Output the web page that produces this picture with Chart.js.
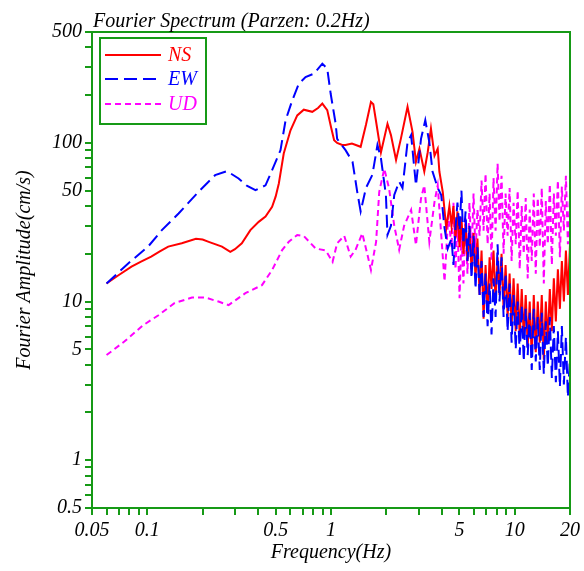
<!DOCTYPE html>
<html lang="en">
<head>
  <meta charset="UTF-8" />
  <title>Fourier Spectrum</title>
  <script src="https://cdn.jsdelivr.net/npm/chart.js"></script>
  <style>
    body { margin: 0; background: #fff; }
    #wrap { width: 584px; height: 571px; }
  </style>
</head>
<body>
  <div id="wrap"><canvas id="spec" width="584" height="571"></canvas></div>

  <script>
    // low-frequency part of each component (Hz, cm/s)
    const nsFreq = [0.06,0.07,0.082,0.093,0.105,0.117,0.13,0.154,0.184,0.2,0.216,0.255,0.283,0.3,0.327,0.364,0.404,0.44,0.478,0.5,0.52,0.553,0.602,0.655,0.711,0.791,0.85,0.897,0.954,1.0,1.04,1.08,1.15,1.2,1.3,1.45,1.55,1.65,1.7,1.75,1.87,2.03,2.12,2.26,2.4,2.61,2.78,2.9,3.03,3.22,3.36,3.5,3.66,3.81,3.89,4.06,4.24,4.41];
    const nsAmp  = [13,14.7,16.6,17.9,19.2,20.7,22.2,23.3,24.9,24.6,23.8,22.2,20.6,21.4,23.3,28.2,31.8,34.3,39.6,46,55.5,85.7,120,149,162,157,166,177,161,126,104,100,97,97,99,94.5,130,181,175,142,87,132,112,78,106,169,117,76,92,66,87,123,83,92,66,49,29,40];

    const ewFreq = [0.06,0.0787,0.101,0.12,0.148,0.19,0.234,0.271,0.314,0.35,0.388,0.44,0.478,0.531,0.566,0.615,0.668,0.727,0.807,0.897,0.954,0.996,1.06,1.08,1.2,1.31,1.39,1.45,1.55,1.68,1.79,1.87,1.99,2.03,2.12,2.21,2.35,2.45,2.61,2.73,2.9,3.09,3.26,3.43,3.57,3.81,3.98,4.15,4.32];
    const ewAmp  = [13,17.4,22.2,28.2,35.9,49.2,62.6,66.4,59.7,53.5,50.4,54,67.3,90,139,185,236,260,273,316,294,204,132,106,90,76,49,37,52,63,97,80,47,26.3,30,47,57,52,101,112,54,106,139,101,66,52,47,29,21.6];

    const udFreq = [0.06,0.075,0.095,0.115,0.141,0.175,0.207,0.244,0.277,0.342,0.421,0.478,0.542,0.589,0.655,0.711,0.825,0.936,1.02,1.08,1.18,1.28,1.36,1.48,1.58,1.65,1.76,1.83,1.95,2.07,2.21,2.35,2.5,2.73,2.9,3.09,3.22,3.43,3.66,3.81,3.95,4.15,4.35];
    const udAmp  = [4.6,5.6,7.1,8.2,9.8,10.6,10.6,10,9.5,11.3,12.7,15.8,21.1,23.8,26.3,25.9,21.6,21,17.8,23.3,26,19.2,21.2,26.9,19.7,15.8,23.8,49,68.8,51.7,30,21.2,30,37.8,22.7,44.7,54,23.8,42.5,54,30,13.4,35];

    // high-frequency part, shared frequency grid
    const hfFreq = [4.53,4.64,4.76,4.88,5.01,5.13,5.26,5.4,5.53,5.67,5.82,5.97,6.12,6.27,6.44,6.6,6.77,6.94,7.12,7.3,7.48,7.67,7.87,8.07,8.27,8.48,8.7,8.92,9.15,9.38,9.62,9.86,10.13,10.38,10.65,10.92,11.2,11.48,11.77,12.07,12.38,12.7,13.02,13.35,13.69,14.04,14.4,14.77,15.14,15.53,15.93,16.33,16.75,17.18,17.62,18.06,18.52,19,19.48,20];
    const nsHf = [30,40,25,37,22,34,20,31,18,29,16,27,14,25,11,21,7.8,17,8.5,19,12,21,10,19,11,20,9,17,8,15,7,14,6.5,13,6,12,6,11,5.2,10,4.5,11,4.8,10,5.5,11,4.3,10,5.5,12,6.5,14,7.5,16,9,18,10,21,11,23];
    const ewHf = [25,17,29,42,28,50,23,37,18,30,14,26,12,22,11,18,8,15,7,13,6.2,14,8,23,10,19,8,15,6.5,13,5.5,11,5,10,4.6,9.5,4.2,9,4.6,8.5,3.7,9,4.2,8,3.7,8.5,3.5,7.5,3.9,8,3.3,7,3.1,6.5,2.9,7,3,6,2.5,4.5];
    const udHf = [22,42,16,32,10.5,26,13,34,15,42,19,48,20,38,26,58,28,64,23,48,18,60,28,74,32,62,20,48,26,52,18,42,23,50,16,40,20,45,14,38,18,48,15,45,22,52,13,43,23,55,17,48,26,58,19,53,28,62,23,48];

    // axis ticks
    const xTicks  = [0.05,0.06,0.07,0.08,0.09,0.1,0.2,0.3,0.4,0.5,0.6,0.7,0.8,0.9,1,2,3,4,5,6,7,8,9,10,20];
    const xLabels = [0.05,0.1,0.5,1,5,10,20];
    const yTicks  = [0.5,0.6,0.7,0.8,0.9,1,2,3,4,5,6,7,8,9,10,20,30,40,50,60,70,80,90,100,200,300,400,500];
    const yLabels = [0.5,1,5,10,50,100,500];

    const titleText = 'Fourier Spectrum (Parzen: 0.2Hz)';
    const green = '#169a16';
    const serif = '"Liberation Serif", "DejaVu Serif", serif';

    function toPoints(fs, as) {
      return fs.map((f, i) => ({ x: f, y: as[i] }));
    }

    function italic() {
      return { family: serif, size: 20, style: 'italic', weight: 'normal' };
    }

    // frame on top/right, title and the boxed legend
    const framePlugin = {
      id: 'frame',
      afterDraw(chart) {
        const { ctx, chartArea: a } = chart;
        ctx.save();
        ctx.strokeStyle = green;
        ctx.lineWidth = 2;
        ctx.setLineDash([]);
        ctx.beginPath();
        ctx.moveTo(a.left, a.top);
        ctx.lineTo(a.right, a.top);
        ctx.lineTo(a.right, a.bottom);
        ctx.stroke();

        ctx.font = 'italic 20px ' + serif;
        ctx.fillStyle = '#000';
        ctx.textBaseline = 'alphabetic';
        ctx.textAlign = 'left';
        ctx.fillText(titleText, a.left + 1, a.top - 5);

        // legend box
        ctx.strokeRect(a.left + 8, a.top + 6, 106, 86);
        const rows = [23, 47, 72];
        chart.data.datasets.forEach((ds, i) => {
          const y = a.top + rows[i];
          ctx.strokeStyle = ds.borderColor;
          ctx.lineWidth = 2;
          ctx.setLineDash(ds.borderDash || []);
          ctx.beginPath();
          ctx.moveTo(a.left + 13, y);
          ctx.lineTo(a.left + 69, y);
          ctx.stroke();
          ctx.fillStyle = ds.borderColor;
          ctx.textBaseline = 'middle';
          ctx.fillText(ds.label, a.left + 76, y + 1);
        });
        ctx.restore();
      }
    };

    new Chart(document.getElementById('spec'), {
      type: 'line',
      data: {
        datasets: [
          {
            label: 'NS',
            data: toPoints(nsFreq.concat(hfFreq), nsAmp.concat(nsHf)),
            borderColor: '#ff0000',
            borderWidth: 2,
            pointRadius: 0,
            tension: 0,
            fill: false,
            order: 1
          },
          {
            label: 'EW',
            data: toPoints(ewFreq.concat(hfFreq), ewAmp.concat(ewHf)),
            borderColor: '#0000ff',
            borderWidth: 2,
            borderDash: [13, 6],
            pointRadius: 0,
            tension: 0,
            fill: false,
            order: 0
          },
          {
            label: 'UD',
            data: toPoints(udFreq.concat(hfFreq), udAmp.concat(udHf)),
            borderColor: '#ff00ff',
            borderWidth: 2,
            borderDash: [6, 4],
            pointRadius: 0,
            tension: 0,
            fill: false,
            order: 2
          }
        ]
      },
      options: {
        responsive: false,
        animation: false,
        layout: { padding: { top: 32, right: 14, left: 0, bottom: 0 } },
        plugins: {
          legend: { display: false },
          tooltip: { enabled: false }
        },
        scales: {
          x: {
            type: 'logarithmic',
            min: 0.05,
            max: 20,
            afterBuildTicks: (s) => { s.ticks = xTicks.map(v => ({ value: v })); },
            afterFit: (s) => { s.height = 63; },
            ticks: {
              autoSkip: false,
              maxRotation: 0,
              padding: 4,
              color: '#000',
              font: italic(),
              callback: (v) => xLabels.includes(v) ? String(v) : ''
            },
            grid: { drawOnChartArea: false, color: green, lineWidth: 2, tickLength: 7 },
            border: { color: green, width: 2 },
            title: {
              display: true,
              text: 'Frequency(Hz)',
              color: '#000',
              font: italic(),
              padding: { top: 0, bottom: 6 }
            }
          },
          y: {
            type: 'logarithmic',
            min: 0.5,
            max: 500,
            afterBuildTicks: (s) => { s.ticks = yTicks.map(v => ({ value: v })); },
            afterFit: (s) => { s.width = 92; },
            ticks: {
              autoSkip: false,
              padding: 3,
              color: '#000',
              font: italic(),
              callback: (v) => yLabels.includes(v) ? String(v) : ''
            },
            grid: { drawOnChartArea: false, color: green, lineWidth: 2, tickLength: 7 },
            border: { color: green, width: 2 },
            title: {
              display: true,
              text: 'Fourier Amplitude(cm/s)',
              color: '#000',
              font: italic(),
              padding: { top: 13, bottom: 0 }
            }
          }
        }
      },
      plugins: [framePlugin]
    });
  </script>
</body>
</html>
